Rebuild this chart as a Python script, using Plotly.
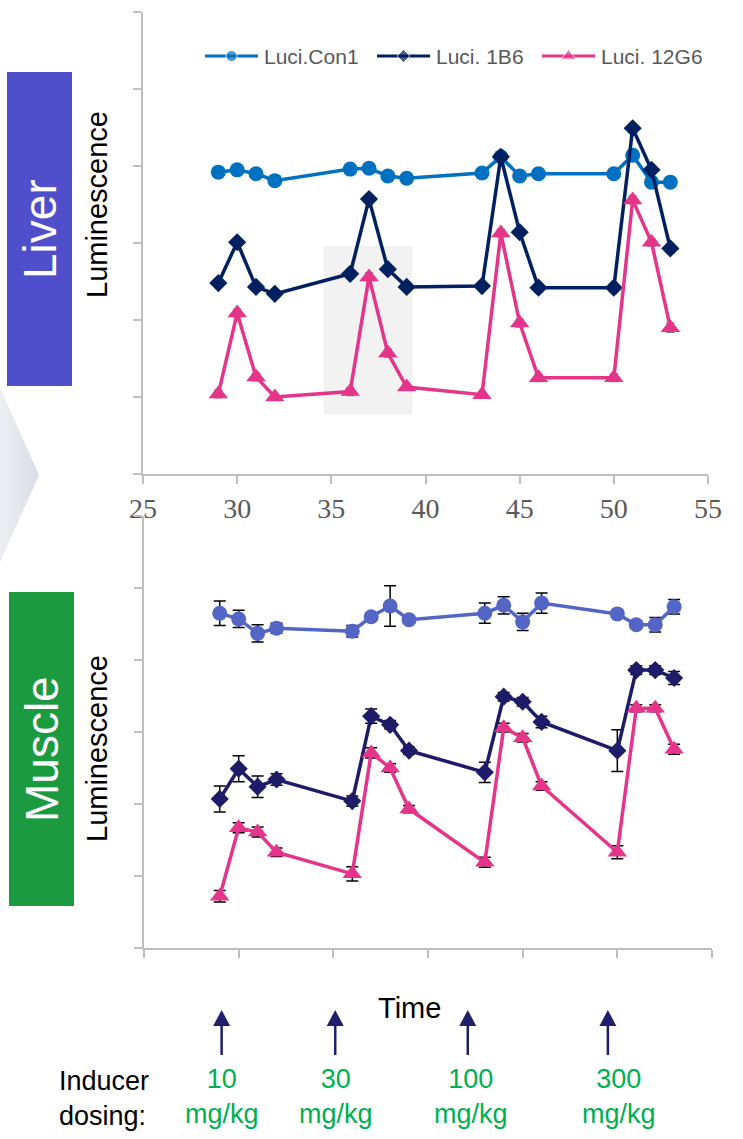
import plotly.graph_objects as go

# Sampling days (x) shared by all series
days = [29, 30, 31, 32, 36, 37, 38, 39, 43, 44, 45, 46, 50, 51, 52, 53]

# Liver luminescence (arbitrary units)
liver_con1 = [3.92, 3.95, 3.90, 3.81, 3.96, 3.97, 3.87, 3.84, 3.91, 4.12, 3.87, 3.90, 3.90, 4.14, 3.79, 3.79]
liver_1b6 = [2.48, 3.01, 2.43, 2.34, 2.60, 3.57, 2.66, 2.43, 2.44, 4.12, 3.14, 2.42, 2.42, 4.49, 3.95, 2.93]
liver_12g6 = [1.04, 2.09, 1.26, 1.00, 1.07, 2.56, 1.57, 1.13, 1.03, 3.13, 1.96, 1.25, 1.25, 3.56, 3.01, 1.90]
liver_con1_err = [0.04, 0.04, 0.04, 0.04, 0.04, 0.05, 0.04, 0.04, 0.04, 0.05, 0.04, 0.04, 0.04, 0.05, 0.04, 0.05]
liver_1b6_err = [0.05, 0.05, 0.05, 0.05, 0.06, 0.05, 0.05, 0.05, 0.06, 0.05, 0.05, 0.06, 0.06, 0.06, 0.06, 0.06]
liver_12g6_err = [0.05, 0.05, 0.05, 0.04, 0.05, 0.05, 0.05, 0.04, 0.04, 0.05, 0.05, 0.05, 0.05, 0.05, 0.05, 0.06]

# Muscle luminescence (arbitrary units)
muscle_con1 = [4.65, 4.57, 4.37, 4.44, 4.40, 4.60, 4.75, 4.56, 4.65, 4.76, 4.53, 4.79, 4.64, 4.49, 4.49, 4.74]
muscle_1b6 = [2.07, 2.49, 2.24, 2.34, 2.04, 3.22, 3.10, 2.74, 2.44, 3.49, 3.42, 3.14, 2.74, 3.86, 3.86, 3.75]
muscle_12g6 = [0.72, 1.67, 1.61, 1.33, 1.03, 2.71, 2.50, 1.93, 1.19, 3.06, 2.92, 2.25, 1.33, 3.33, 3.33, 2.76]
muscle_con1_err = [0.17, 0.12, 0.12, 0.07, 0.08, 0.05, 0.28, 0.05, 0.14, 0.12, 0.12, 0.14, 0.05, 0.05, 0.10, 0.10]
muscle_1b6_err = [0.18, 0.18, 0.15, 0.08, 0.07, 0.10, 0.06, 0.05, 0.14, 0.06, 0.06, 0.08, 0.29, 0.06, 0.06, 0.09]
muscle_12g6_err = [0.08, 0.07, 0.07, 0.06, 0.10, 0.07, 0.06, 0.05, 0.07, 0.06, 0.06, 0.06, 0.09, 0.05, 0.05, 0.07]

series_names = ["Luci.Con1", "Luci. 1B6", "Luci. 12G6"]
x_ticks = [25, 30, 35, 40, 45, 50, 55]

# Inducer dosing
dose_labels = ["10", "30", "100", "300"]
dose_days = [29.1, 35.1, 42.1, 49.5]

W, H = 743, 1139


def px(x):
    return x / W


def py(y):
    return 1 - y / H


SANS = "Liberation Sans, Arial, sans-serif"
SERIF = "Liberation Serif, Times New Roman, serif"
PINK = "#E5358A"
LIVER_COLORS = ["#0070C0", "#002060", PINK]
MUSCLE_COLORS = ["#5466C5", "#1E1B69", PINK]
SYMBOLS = ["circle", "diamond", "triangle-up"]
SIZES = [15, 14, 17]

fig = go.Figure()


def add_series(x, y, err, i, colors, xa, ya, err_color, err_w):
    fig.add_trace(go.Scatter(
        x=x, y=y, name=series_names[i], mode="lines+markers",
        xaxis=xa, yaxis=ya, showlegend=False,
        line=dict(color=colors[i], width=3.5),
        marker=dict(color=colors[i], symbol=SYMBOLS[i], size=SIZES[i]),
        error_y=dict(type="data", array=err, visible=True,
                     color=err_color, thickness=1.5, width=err_w),
    ))


# Liver panel
add_series(days, liver_con1, liver_con1_err, 0, LIVER_COLORS, "x", "y", "#7A7A7A", 4)
add_series(days, liver_1b6, liver_1b6_err, 1, LIVER_COLORS, "x", "y", "#7A7A7A", 4)
add_series(days, liver_12g6, liver_12g6_err, 2, LIVER_COLORS, "x", "y", "#7A7A7A", 4)

# Muscle panel
add_series(days, muscle_con1, muscle_con1_err, 0, MUSCLE_COLORS, "x2", "y2", "#000000", 6)
add_series(days, muscle_1b6, muscle_1b6_err, 1, MUSCLE_COLORS, "x2", "y2", "#000000", 6)
add_series(days, muscle_12g6, muscle_12g6_err, 2, MUSCLE_COLORS, "x2", "y2", "#000000", 6)

# Decorative chevron on an overlay pixel axis
fig.add_trace(go.Scatter(
    x=[0, 39, 0, 0], y=[388, 475, 562, 388], xaxis="x3", yaxis="y3",
    mode="lines", line=dict(width=0), fill="toself", showlegend=False, hoverinfo="skip",
    fillgradient=dict(type="horizontal", colorscale=[[0, "#ECEEF2"], [1, "#D9DDE6"]]),
))

# Legend keys for the liver panel (pixel overlay axis)
legend_x0 = [205, 377, 542]
legend_y = 56
annotations = []
for i, x0 in enumerate(legend_x0):
    fig.add_trace(go.Scatter(
        x=[x0, x0 + 26.5, x0 + 53], y=[legend_y] * 3, xaxis="x3", yaxis="y3",
        mode="lines+markers", showlegend=False, hoverinfo="skip",
        line=dict(color=LIVER_COLORS[i], width=3),
        marker=dict(color=LIVER_COLORS[i], symbol=SYMBOLS[i], size=[0, SIZES[i] - 4, 0]),
    ))
    annotations.append(dict(text=series_names[i], x=px(x0 + 57), y=py(legend_y),
                            xanchor="left", yanchor="middle",
                            font=dict(family=SANS, size=21, color="#595959")))

axis_line = dict(showline=True, linecolor="#BFBFBF", linewidth=2, showgrid=False,
                 zeroline=False, ticks="outside", ticklen=8, tickwidth=2, tickcolor="#BFBFBF")

fig.update_layout(
    width=W, height=H, margin=dict(l=0, r=0, t=0, b=0, autoexpand=False),
    paper_bgcolor="white", plot_bgcolor="rgba(0,0,0,0)", showlegend=False,
    xaxis=dict(domain=[px(143), px(708)], range=[25, 55], tickvals=x_ticks,
               tickfont=dict(family=SERIF, size=28, color="#595959"),
               ticklabelstandoff=0, anchor="y", **axis_line),
    yaxis=dict(domain=[py(474), py(12)], range=[0, 6], dtick=1, tick0=0,
               showticklabels=False, anchor="x", **axis_line),
    xaxis2=dict(domain=[px(144), px(712)], range=[25, 55], tickvals=x_ticks,
                showticklabels=False, anchor="y2", **axis_line),
    yaxis2=dict(domain=[py(948), py(516)], range=[0, 6], dtick=1, tick0=0,
                showticklabels=False, anchor="x2", **axis_line),
    xaxis3=dict(domain=[0, 1], range=[0, W], visible=False, anchor="y3", fixedrange=True),
    yaxis3=dict(domain=[0, 1], range=[H, 0], visible=False, anchor="x3", fixedrange=True),
)

# Highlight band in the liver panel
fig.add_shape(type="rect", xref="x", yref="y", x0=34.6, x1=39.3, y0=0.77, y1=2.96,
              fillcolor="#F2F2F2", line=dict(width=0), layer="below")

# Tissue boxes
fig.add_shape(type="rect", xref="paper", yref="paper", x0=px(7), x1=px(72), y0=py(386), y1=py(72),
              fillcolor="#4F4FCB", line=dict(width=0))
fig.add_shape(type="rect", xref="paper", yref="paper", x0=px(9), x1=px(74), y0=py(906), y1=py(592),
              fillcolor="#1B9A40", line=dict(width=0))

annotations += [
    dict(text="Liver", x=px(40), y=py(229), textangle=-90,
         font=dict(family=SANS, size=46, color="white")),
    dict(text="Muscle", x=px(42), y=py(749), textangle=-90,
         font=dict(family=SANS, size=46, color="white")),
    dict(text="Luminescence", x=px(97), y=py(205), textangle=-90,
         font=dict(family=SANS, size=29, color="black")),
    dict(text="Luminescence", x=px(97), y=py(749), textangle=-90,
         font=dict(family=SANS, size=29, color="black")),
    dict(text="Time", x=px(409), y=py(1008),
         font=dict(family=SANS, size=29, color="black")),
    dict(text="Inducer<br>dosing:", x=px(57), y=py(1098), xanchor="left", align="left",
         font=dict(family=SANS, size=27, color="black")),
]
label_x = [222, 336, 471, 619]
for lab, lx in zip(dose_labels, label_x):
    annotations.append(dict(text=f"{lab}<br>mg/kg", x=px(lx), y=py(1096),
                            font=dict(family=SANS, size=27, color="#00B050")))
for a in annotations:
    a.setdefault("xanchor", "center")
    a.setdefault("yanchor", "middle")
    a.update(xref="paper", yref="paper", showarrow=False)
fig.update_layout(annotations=annotations)

# Dosing arrows under the muscle panel
for d in dose_days:
    fig.add_shape(type="line", xref="x2", yref="paper", x0=d, x1=d, y0=py(1055), y1=py(1022),
                  line=dict(color="#1F1F6B", width=2.5))
    fig.add_shape(type="path", xref="x2", yref="paper",
                  path=f"M {d - 0.45} {py(1026)} L {d + 0.45} {py(1026)} L {d} {py(1010)} Z",
                  fillcolor="#1F1F6B", line=dict(width=0))

fig.write_html("out.html")
